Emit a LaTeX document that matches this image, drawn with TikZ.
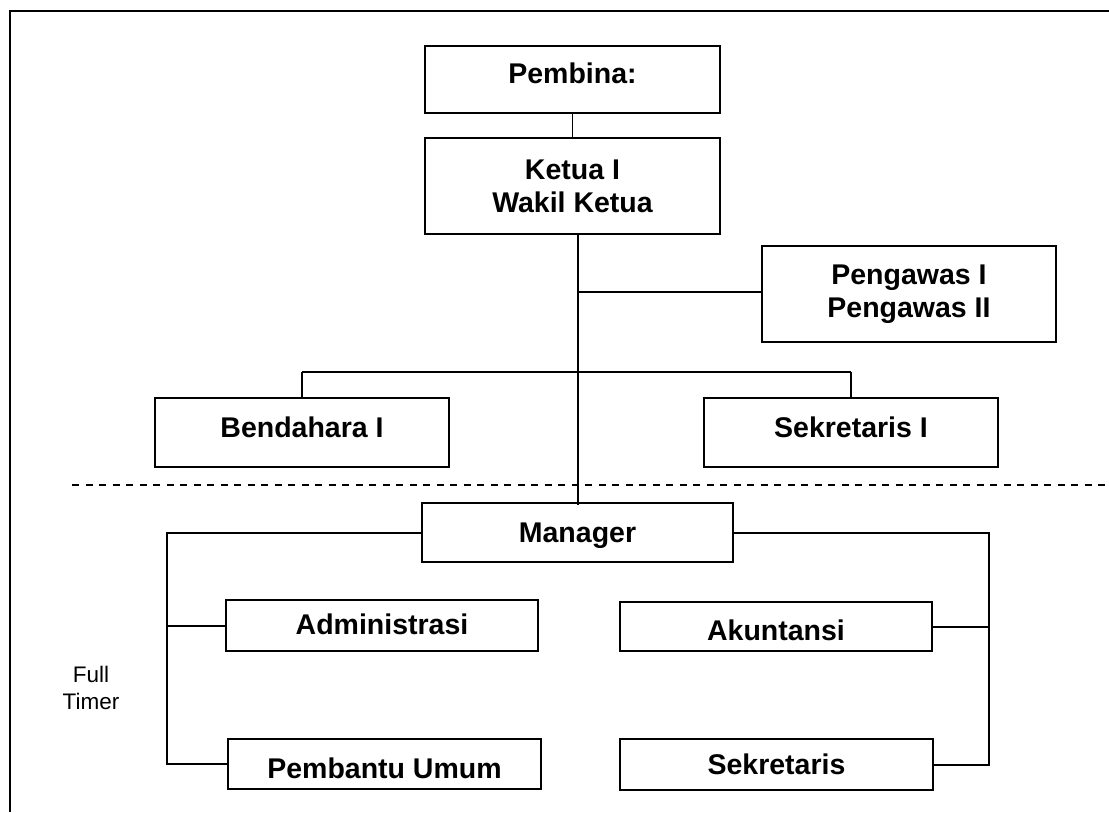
\documentclass[tikz,border=0pt]{standalone}
\usepackage{fontspec}
\setmainfont{Liberation Sans}
\usetikzlibrary{calc}
\begin{document}
\begin{tikzpicture}[x=1pt,y=-1pt,
  box/.style={draw=black, line width=2pt, rectangle, inner sep=0pt, align=center,
    font=\fontsize{28.5}{33}\selectfont\bfseries},
  one/.style={text height=20.4pt, text depth=0pt},
  conn/.style={draw=black, line width=2pt},
  drop/.style={draw=black, line width=1.6pt},
  thin/.style={draw=black, line width=1.3pt},
  frame/.style={draw=black, line width=2pt},
  sep/.style={draw=black, line width=2pt, dash pattern=on 7pt off 6.5pt},
  note/.style={align=center, inner sep=0pt, font=\fontsize{22.5}{27}\selectfont}]
\useasboundingbox (0,0) rectangle (1109,812);
\fill[white] (0,0) rectangle (1109,812);

% frame (cut at the right and bottom)
\coordinate (f1) at (1109,11);
\coordinate (f2) at (9.5,11);
\coordinate (f3) at (9.5,812);
\draw[frame] (f1) -- (f2) -- (f3);

% boxes
\node[box, one, text depth=13pt, minimum width=295pt, minimum height=67pt] (pembina) at (572.5,79.5) {Pembina:};
\node[box, minimum width=295pt, minimum height=96pt] (ketua) at (572.5,186) {Ketua I\\Wakil Ketua};
\node[box, minimum width=294pt, minimum height=96pt] (pengawas) at (909,294) {Pengawas I\\Pengawas II};
\node[box, one, text depth=11pt, minimum width=294pt, minimum height=69pt] (bendahara) at (302,432.5) {Bendahara I};
\node[box, one, text depth=11pt, minimum width=294pt, minimum height=69pt] (sekI) at (851,432.5) {Sekretaris I};
\node[box, one, minimum width=311pt, minimum height=59pt] (manager) at (577.5,532.5) {Manager};
\node[box, one, text depth=3pt, minimum width=312pt, minimum height=51pt] (adm) at (382,625.5) {Administrasi};
\node[box, one, text height=27.4pt, minimum width=312pt, minimum height=49pt] (akun) at (776,626.5) {Akuntansi};
\node[box, one, text height=28.4pt, minimum width=313pt, minimum height=50pt] (pembantu) at (384.5,764) {Pembantu Umum};
\node[box, one, minimum width=313pt, minimum height=51pt] (sekr) at (776.5,764.5) {Sekretaris};

\node[note] (full) at (91,688) {Full\\Timer};

% helper coordinates
\coordinate (tx) at (578,0);
\coordinate (py) at (0,292);
\coordinate (br) at (0,371.5);
\coordinate (lx) at (167,0);
\coordinate (rx) at (989,0);
\coordinate (d1) at (72,484.5);
\coordinate (d2) at (1109,484.5);

% connectors
\draw[thin] (pembina.south) -- (ketua.north);
\draw[thin] (ketua.south -| tx) -- ([yshift=-3pt]manager.north -| tx);
\draw[conn] (tx |- py) -- (pengawas.west |- py);
\draw[conn] (bendahara.north |- br) -- (sekI.north |- br);
\draw[drop] (bendahara.north) -- (bendahara.north |- br);
\draw[drop] (sekI.north) -- (sekI.north |- br);

\draw[conn] (manager.west) -| (lx |- pembantu.west) -- (pembantu.west);
\draw[conn] (lx |- adm.west) -- (adm.west);
\draw[conn] (manager.east) -| (rx |- sekr.east) -- (sekr.east);
\draw[conn] (akun.east) -- (rx |- akun.east);

% separator
\draw[sep] (d1) -- (d2);
\end{tikzpicture}
\end{document}
